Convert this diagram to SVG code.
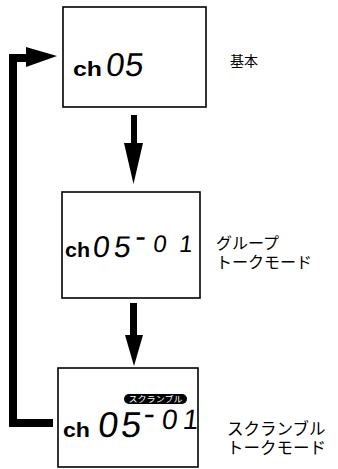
<svg xmlns="http://www.w3.org/2000/svg" width="338" height="469" viewBox="0 0 338 469">
<style>
.box{fill:#fff;stroke:#000;stroke-width:1.6}
.ch{font-family:"Liberation Sans",Arial,sans-serif;font-weight:bold;fill:#000}
.dg{font-family:"Liberation Sans",Arial,sans-serif;fill:#000}
.lbl{font-family:"Noto Sans CJK JP","Noto Sans",sans-serif;fill:#000}
.arr{fill:#000;stroke:none}
</style>
<rect width="338" height="469" fill="#fff"/>
<g id="connectors">
<rect class="arr" x="131" y="115" width="6" height="30"/>
<polygon class="arr" points="124,143 143,143 133.5,184"/>
<rect class="arr" x="130" y="303" width="7" height="33"/>
<polygon class="arr" points="125,335 143,335 134,366"/>
<polyline points="53,423 13,423 13,58 28,58" fill="none" stroke="#000" stroke-width="8" stroke-linejoin="miter"/>
<polygon class="arr" points="26,47 57,56 26,67"/>
</g>
<g id="node-basic">
<rect class="box" x="63" y="7" width="143" height="100"/>
<text class="ch" x="73" y="76" font-size="20" textLength="29" lengthAdjust="spacingAndGlyphs">ch</text>
<text class="dg" transform="translate(105,76) skewX(-7)" font-size="33"><tspan x="0 19" y="0">05</tspan></text>
<text class="lbl" x="230" y="66" font-size="14">基本</text>
</g>
<g id="node-group">
<rect class="box" x="62" y="192" width="138" height="106"/>
<text class="ch" x="65" y="257" font-size="20" textLength="25" lengthAdjust="spacingAndGlyphs">ch</text>
<text class="dg" transform="translate(92,257) skewX(-7)" font-size="30"><tspan x="0 21" y="0">05</tspan><tspan x="41" y="-10" font-size="32">-</tspan><tspan x="60 86" y="-5" font-size="24">01</tspan></text>
<text class="lbl" font-size="16"><tspan x="216" y="249">グループ</tspan><tspan x="216" y="268">トークモード</tspan></text>
</g>
<g id="node-scramble">
<rect class="box" x="58" y="368" width="140" height="99"/>
<rect x="124" y="394" width="63" height="10" rx="5" fill="#000"/>
<text x="155.5" y="402.3" font-size="8.5" text-anchor="middle" fill="#fff" font-family="Noto Sans CJK JP,sans-serif" textLength="54" lengthAdjust="spacingAndGlyphs">スクランブル</text>
<text class="ch" x="63" y="437" font-size="20" textLength="27" lengthAdjust="spacingAndGlyphs">ch</text>
<text class="dg" transform="translate(97,437) skewX(-7)" font-size="36"><tspan x="0 23" y="0">05</tspan><tspan x="44" y="-12" font-size="34">-</tspan><tspan x="63 84" y="-8" font-size="28">01</tspan></text>
<text class="lbl" font-size="16.5"><tspan x="227" y="435">スクランブル</tspan><tspan x="227" y="454">トークモード</tspan></text>
</g>
</svg>
